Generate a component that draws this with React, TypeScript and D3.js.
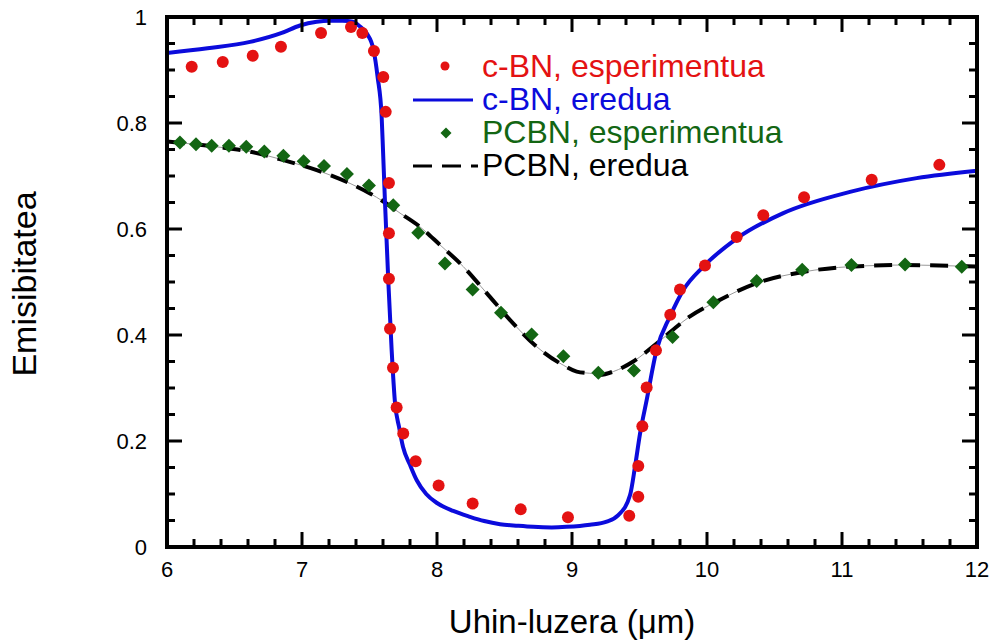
import React from "react";
import * as d3 from "d3";

const xTicks = [6, 7, 8, 9, 10, 11, 12];
const yTicks = [0, 0.2, 0.4, 0.6, 0.8, 1];
const yTickLabels = ["0", "0.2", "0.4", "0.6", "0.8", "1"];

const cbnExpX = [6.183, 6.413, 6.635, 6.844, 7.141, 7.363, 7.447, 7.533, 7.602, 7.62, 7.644, 7.644, 7.644, 7.652, 7.674, 7.701, 7.75, 7.842, 8.012, 8.264, 8.62, 8.97, 9.424, 9.491, 9.491, 9.521, 9.553, 9.622, 9.728, 9.8, 9.985, 10.22, 10.417, 10.719, 11.22, 11.721];
const cbnExpY = [0.906, 0.915, 0.927, 0.944, 0.97, 0.981, 0.97, 0.936, 0.887, 0.821, 0.687, 0.592, 0.506, 0.412, 0.338, 0.263, 0.214, 0.162, 0.116, 0.082, 0.071, 0.056, 0.059, 0.095, 0.153, 0.228, 0.301, 0.371, 0.438, 0.486, 0.531, 0.585, 0.626, 0.66, 0.693, 0.721];

const cbnTheoryX = [6.0, 6.3, 6.615, 6.85, 6.985, 7.109, 7.2, 7.3, 7.378, 7.43, 7.48, 7.53, 7.56, 7.59, 7.6, 7.615, 7.64, 7.664, 7.689, 7.72, 7.748, 7.8, 7.85, 7.92, 8.0, 8.12, 8.244, 8.35, 8.467, 8.6, 8.713, 8.85, 8.96, 9.133, 9.257, 9.343, 9.43, 9.467, 9.504, 9.553, 9.627, 9.726, 9.825, 9.973, 10.22, 10.565, 11.059, 11.553, 12.0];
const cbnTheoryY = [0.932, 0.941, 0.953, 0.97, 0.984, 0.991, 0.993, 0.993, 0.991, 0.982, 0.969, 0.938, 0.887, 0.812, 0.749, 0.649, 0.498, 0.372, 0.272, 0.225, 0.189, 0.155, 0.126, 0.1, 0.083, 0.068, 0.057, 0.049, 0.043, 0.04, 0.038, 0.037, 0.038, 0.042, 0.048, 0.06, 0.098, 0.152, 0.214, 0.277, 0.372, 0.435, 0.485, 0.529, 0.582, 0.63, 0.67, 0.696, 0.71];

const pcbnExpX = [6.096, 6.215, 6.331, 6.459, 6.587, 6.721, 6.862, 7.012, 7.163, 7.333, 7.496, 7.676, 7.861, 8.059, 8.264, 8.474, 8.701, 8.936, 9.195, 9.459, 9.745, 10.047, 10.368, 10.705, 11.07, 11.467, 11.887];
const pcbnExpY = [0.763, 0.76, 0.757, 0.757, 0.755, 0.746, 0.738, 0.728, 0.719, 0.704, 0.682, 0.645, 0.593, 0.535, 0.486, 0.442, 0.401, 0.36, 0.329, 0.333, 0.396, 0.462, 0.502, 0.523, 0.532, 0.533, 0.529];

const pcbnTheoryX = [6.0, 6.37, 6.615, 6.862, 7.109, 7.356, 7.504, 7.602, 7.726, 7.874, 8.022, 8.195, 8.368, 8.564, 8.738, 8.936, 9.035, 9.158, 9.207, 9.306, 9.454, 9.627, 9.874, 10.07, 10.368, 10.713, 11.059, 11.454, 12.0];
const pcbnTheoryY = [0.765, 0.755, 0.746, 0.73, 0.711, 0.686, 0.667, 0.652, 0.63, 0.604, 0.57, 0.529, 0.479, 0.422, 0.378, 0.343, 0.331, 0.327, 0.325, 0.331, 0.35, 0.384, 0.435, 0.463, 0.498, 0.519, 0.529, 0.532, 0.529];

const legendLabels = ["c-BN, esperimentua", "c-BN, eredua", "PCBN, esperimentua", "PCBN, eredua"];

const RED = "#e41212";
const BLUE = "#0b0bdc";
const GREEN = "#136613";
const FONT = "'Liberation Sans', Arial, Helvetica, sans-serif";

export default function App() {
  const W = 990, H = 641;
  const L = 167, R = 977, T = 17, B = 547;
  const x = d3.scaleLinear().domain([6, 12]).range([L, R]);
  const y = d3.scaleLinear().domain([0, 1]).range([B, T]);

  const line = d3
    .line<[number, number]>()
    .x((d) => x(d[0]))
    .y((d) => y(d[1]))
    .curve(d3.curveMonotoneX);

  const cbnTheory = line(cbnTheoryX.map((v, i) => [v, cbnTheoryY[i]] as [number, number])) || "";
  const pcbnTheory = line(pcbnTheoryX.map((v, i) => [v, pcbnTheoryY[i]] as [number, number])) || "";

  const xMinor = d3.range(6, 12.0001, 0.2);
  const yMinor = d3.range(0, 1.0001, 0.05);
  const isMajorX = (v: number) => Math.abs(v - Math.round(v)) < 1e-6;
  const isMajorY = (v: number) => Math.abs(v * 5 - Math.round(v * 5)) < 1e-6;

  const majorLen = 15, minorLen = 8;
  const tickW = 3;

  const diamond = (cx: number, cy: number, r: number) =>
    `M${cx},${cy - r}L${cx + r},${cy}L${cx},${cy + r}L${cx - r},${cy}Z`;

  const legX0 = 413, legX1 = 473, legTextX = 482;
  const legRows = [66, 100, 133, 166];
  const legBase = [77, 110, 143, 176];

  return (
    <svg width={W} height={H} style={{ position: "absolute", left: 0, top: 0, background: "#fff" }} fontFamily={FONT}>
      <rect width={W} height={H} fill="#fff" />
      <defs>
        <clipPath id="plotclip">
          <rect x={L} y={T} width={R - L} height={B - T} />
        </clipPath>
      </defs>

      <g clipPath="url(#plotclip)">
        <path d={pcbnTheory} fill="none" stroke="#9a9a9a" strokeWidth={1} />
        <path d={pcbnTheory} fill="none" stroke="#000" strokeWidth={4} strokeDasharray="18 10" />
        <path d={cbnTheory} fill="none" stroke={BLUE} strokeWidth={4} />
        {pcbnExpX.map((v, i) => (
          <path key={"g" + i} d={diamond(x(v), y(pcbnExpY[i]), 7)} fill={GREEN} />
        ))}
        {cbnExpX.map((v, i) => (
          <circle key={"r" + i} cx={x(v)} cy={y(cbnExpY[i])} r={6} fill={RED} />
        ))}
      </g>

      <g stroke="#000" strokeWidth={tickW}>
        {xMinor.map((v, i) => {
          const len = isMajorX(v) ? majorLen : minorLen;
          return (
            <g key={"xt" + i}>
              <line x1={x(v)} x2={x(v)} y1={B} y2={B - len} />
              <line x1={x(v)} x2={x(v)} y1={T} y2={T + len} />
            </g>
          );
        })}
        {yMinor.map((v, i) => {
          const len = isMajorY(v) ? majorLen : minorLen;
          return (
            <g key={"yt" + i}>
              <line x1={L} x2={L + len} y1={y(v)} y2={y(v)} />
              <line x1={R} x2={R - len} y1={y(v)} y2={y(v)} />
            </g>
          );
        })}
      </g>

      <rect x={L} y={T} width={R - L} height={B - T} fill="none" stroke="#000" strokeWidth={4} />

      {xTicks.map((v) => (
        <text key={"xl" + v} x={x(v)} y={577} textAnchor="middle" fontSize={22} fill="#000">
          {v}
        </text>
      ))}
      {yTicks.map((v, i) => (
        <text key={"yl" + v} x={147} y={y(v) + 8} textAnchor="end" fontSize={22} fill="#000">
          {yTickLabels[i]}
        </text>
      ))}

      <text x={572} y={633} textAnchor="middle" fontSize={33} fill="#000">
        Uhin-luzera (μm)
      </text>
      <text transform={`translate(36,284) rotate(-90)`} textAnchor="middle" fontSize={34} fill="#000">
        Emisibitatea
      </text>

      <circle cx={445} cy={legRows[0]} r={4.5} fill={RED} />
      <line x1={legX0} x2={legX1} y1={legRows[1]} y2={legRows[1]} stroke={BLUE} strokeWidth={3} />
      <path d={diamond(446, legRows[2], 5.5)} fill={GREEN} />
      <line x1={legX0} x2={478} y1={legRows[3]} y2={legRows[3]} stroke="#000" strokeWidth={3} strokeDasharray="19 10" />
      {legendLabels.map((t, i) => (
        <text key={"lg" + i} x={legTextX} y={legBase[i]} fontSize={32} fill={[RED, BLUE, GREEN, "#000"][i]}>
          {t}
        </text>
      ))}
    </svg>
  );
}
